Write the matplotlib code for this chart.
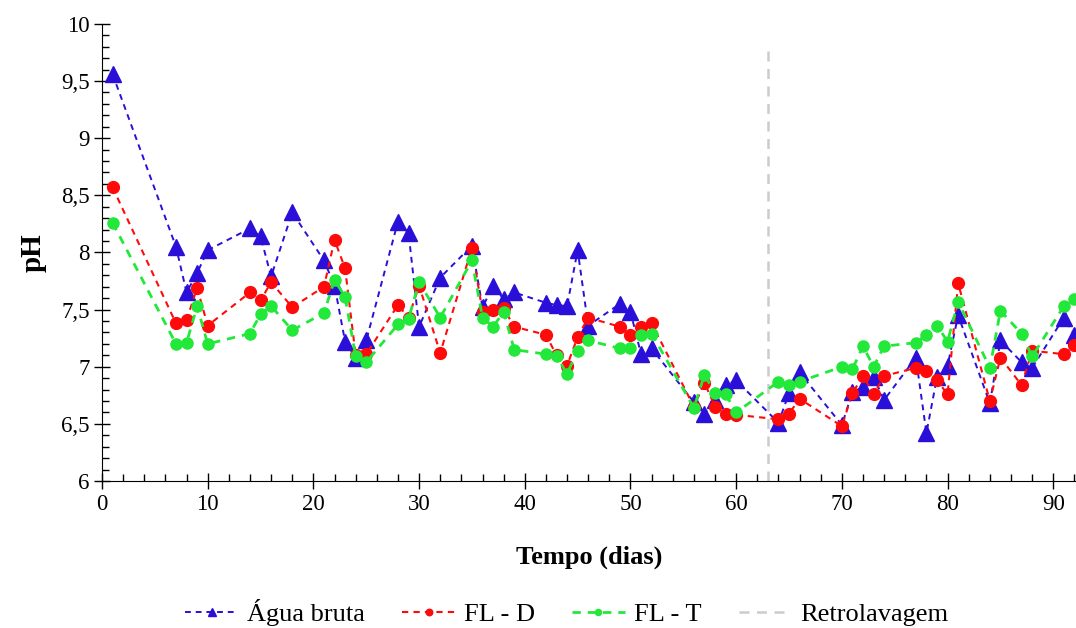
import matplotlib.pyplot as plt
from matplotlib.ticker import MultipleLocator

plt.rcParams['font.family'] = ['Liberation Serif', 'DejaVu Serif']

# DADOS
dias = [1, 7, 8, 9, 10, 14, 15, 16, 18, 21, 22, 23, 24, 25, 28, 29, 30, 32,
        35, 36, 37, 38, 39, 42, 43, 44, 45, 46, 49, 50, 51, 52, 56, 57, 58,
        59, 60, 64, 65, 66, 70, 71, 72, 73, 74, 77, 78, 79, 80, 81, 84, 85,
        87, 88, 91, 92]

agua_bruta = [9.56, 8.05, 7.65, 7.82, 8.02, 8.21, 8.14, 7.79, 8.35, 7.93,
              7.71, 7.22, 7.08, 7.23, 8.27, 8.17, 7.35, 7.78, 8.06, 7.52,
              7.71, 7.59, 7.65, 7.56, 7.54, 7.53, 8.02, 7.36, 7.55, 7.48,
              7.11, 7.16, 6.69, 6.59, 6.71, 6.84, 6.88, 6.51, 6.77, 6.95,
              6.49, 6.78, 6.82, 6.91, 6.71, 7.08, 6.42, 6.91, 7.01, 7.45,
              6.68, 7.23, 7.04, 6.99, 7.43, 7.28]

fl_d = [8.57, 7.38, 7.41, 7.69, 7.36, 7.65, 7.58, 7.74, 7.52, 7.70, 8.11,
        7.86, 7.10, 7.11, 7.54, 7.43, 7.71, 7.12, 8.04, 7.48, 7.50, 7.51,
        7.35, 7.28, 7.10, 7.01, 7.26, 7.43, 7.35, 7.28, 7.35, 7.38, 6.65,
        6.86, 6.65, 6.59, 6.58, 6.54, 6.59, 6.72, 6.48, 6.77, 6.92, 6.76,
        6.92, 6.99, 6.96, 6.88, 6.76, 7.73, 6.70, 7.08, 6.84, 7.14, 7.11,
        7.19]

fl_t = [8.26, 7.20, 7.21, 7.53, 7.20, 7.29, 7.46, 7.53, 7.32, 7.47, 7.76,
        7.61, 7.09, 7.04, 7.37, 7.42, 7.74, 7.43, 7.93, 7.43, 7.35, 7.48,
        7.15, 7.11, 7.09, 6.94, 7.14, 7.23, 7.16, 7.16, 7.28, 7.29, 6.64,
        6.93, 6.77, 6.76, 6.60, 6.87, 6.84, 6.87, 7.00, 6.98, 7.18, 7.00,
        7.18, 7.21, 7.28, 7.36, 7.22, 7.57, 6.99, 7.49, 7.29, 7.09, 7.53,
        7.59]

retro_x = [63, 63]
retro_y = [6, 9.8]

# GRAFICO
fig = plt.figure(figsize=(10.76, 6.28), dpi=100)
ax = fig.add_axes([0.0948, 0.234, 0.9052, 0.728])

ax.plot(dias, agua_bruta, linestyle=(0, (3, 2.5)), color='#2a0fd9', lw=1.4,
        marker='^', markersize=11, label='Água bruta', zorder=3)
ax.plot(dias, fl_d, linestyle=(0, (3, 2.5)), color='#ff0a0a', lw=1.5,
        marker='o', markersize=8.5, label='FL - D', zorder=4)
ax.plot(dias, fl_t, linestyle=(0, (3, 2.5)), color='#22e83a', lw=2.0,
        marker='o', markersize=8, label='FL - T', zorder=5)
ax.plot(retro_x, retro_y, linestyle=(0, (4, 3)), color='#cccccc', lw=1.8,
        label='Retrolavagem', zorder=2)

ax.set_xlim(0, 92.15)
ax.set_ylim(6, 10)
ax.xaxis.set_major_locator(MultipleLocator(10))
ax.xaxis.set_minor_locator(MultipleLocator(2))
ax.yaxis.set_major_locator(MultipleLocator(0.5))
ax.yaxis.set_minor_locator(MultipleLocator(0.1))
ax.yaxis.set_major_formatter(plt.FuncFormatter(lambda v, p: f"{v:g}".replace('.', ',')))

ax.tick_params(which='major', direction='inout', length=11, width=1, labelsize=16.5)
ax.tick_params(which='minor', direction='in', length=5, width=1)
ax.spines['top'].set_visible(False)
ax.spines['right'].set_visible(False)

ax.set_xlabel('Tempo (dias)', fontsize=19, fontweight='bold', labelpad=22)
ax.set_ylabel('pH', fontsize=21, fontweight='bold', labelpad=10)

fig.legend(loc='center', bbox_to_anchor=(0.527, 0.025), ncol=4, frameon=False,
           fontsize=19, handlelength=2.0, columnspacing=1.4, markerscale=0.55,
           handletextpad=0.35)

fig.savefig('out.png', dpi=100)
